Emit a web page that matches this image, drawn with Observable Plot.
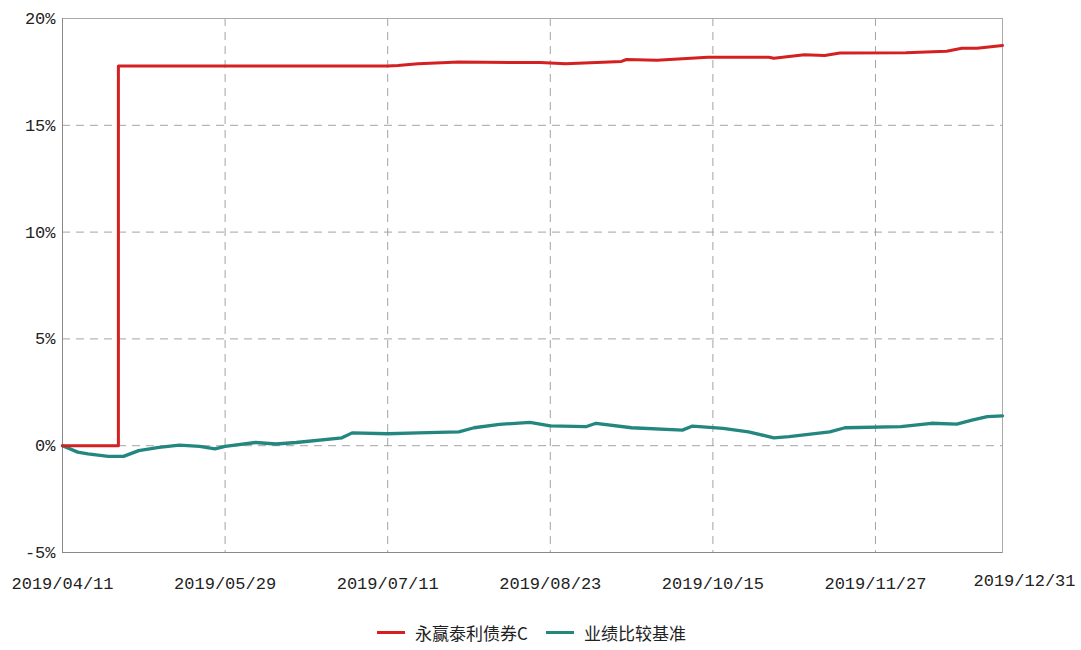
<!DOCTYPE html>
<html>
<head>
<meta charset="utf-8">
<script src="https://cdn.jsdelivr.net/npm/d3@7"></script>
<script src="https://cdn.jsdelivr.net/npm/@observablehq/plot@0.6"></script>
<style>
  body { margin: 0; background: #fff; }
  #legend { display: flex; justify-content: center; align-items: center; font-family: "Noto Sans CJK SC", sans-serif; font-size: 17px; color: #222; margin-top: 20px; padding-right: 18px; }
  .item { display: flex; align-items: center; margin: 0 9px; }
  .swatch { width: 28px; height: 3px; margin-right: 10px; }
</style>
</head>
<body>
<div id="chart"></div>
<div id="legend"></div>
<script>
const seriesNames = ["永赢泰利债券C", "业绩比较基准"];
const seriesColors = ["#d42020", "#23877f"];

// trading-day index and cumulative return (%)
const fundIdx = [0,11,11,30,64,66,70,78,90,94,99,110,111,117,127,139,140,146,150,153,166,174,177,180,185];
const fundVal = [0,0,17.78,17.78,17.78,17.8,17.88,17.96,17.94,17.94,17.88,17.99,18.08,18.04,18.19,18.19,18.14,18.3,18.27,18.38,18.4,18.47,18.61,18.61,18.74];

const benchIdx = [0,3,5,9,12,15,19,23,27,30,32,38,42,46,55,57,64,70,78,81,86,92,96,103,105,112,122,124,130,135,140,143,151,154,165,171,176,179,182,185];
const benchVal = [0,-0.3,-0.38,-0.5,-0.5,-0.23,-0.08,0.03,-0.03,-0.15,-0.03,0.15,0.08,0.15,0.37,0.6,0.56,0.6,0.65,0.84,1.0,1.09,0.93,0.89,1.05,0.84,0.73,0.92,0.81,0.65,0.37,0.42,0.65,0.84,0.89,1.05,1.01,1.2,1.36,1.4];

const tickIdx = [0,32,64,96,128,160,185];
const tickLabels = ["2019/04/11","2019/05/29","2019/07/11","2019/08/23","2019/10/15","2019/11/27","2019/12/31"];
const yTicks = [-5,0,5,10,15,20];

const fund = fundIdx.map((x, i) => ({x, y: fundVal[i]}));
const bench = benchIdx.map((x, i) => ({x, y: benchVal[i]}));
const lbl = d => tickLabels[tickIdx.indexOf(d)];
const font = "'Liberation Mono', monospace";

const chart = Plot.plot({
  width: 1081,
  height: 600,
  marginTop: 18,
  marginBottom: 48,
  marginLeft: 62,
  marginRight: 79,
  style: {fontFamily: font, fontSize: "17px", color: "#222", background: "#fff"},
  x: {domain: [0, 185]},
  y: {domain: [-5, 20]},
  marks: [
    Plot.gridY([0,5,10,15], {stroke: "#999", strokeOpacity: 0.9, strokeDasharray: "8,6"}),
    Plot.gridX(tickIdx.slice(1, 6), {stroke: "#999", strokeOpacity: 0.9, strokeDasharray: "8,6"}),
    Plot.frame({stroke: "#aaa"}),
    Plot.ruleX([0], {stroke: "#888"}),
    Plot.ruleY([-5], {stroke: "#888"}),
    Plot.axisY(yTicks, {tickSize: 0, tickPadding: 7, tickFormat: d => d + "%", label: null, fontSize: 17}),
    Plot.axisX(tickIdx.slice(0, 6), {tickSize: 0, tickPadding: 24, tickFormat: lbl, label: null, fontSize: 17}),
    Plot.axisX([185], {tickSize: 0, tickPadding: 21, tickFormat: lbl, label: null, fontSize: 17, dx: 22}),
    Plot.line(bench, {x: "x", y: "y", stroke: seriesColors[1], strokeWidth: 3.3}),
    Plot.line(fund, {x: "x", y: "y", stroke: seriesColors[0], strokeWidth: 3})
  ]
});
document.getElementById("chart").appendChild(chart);

const legend = document.getElementById("legend");
seriesNames.forEach((n, i) => {
  const item = document.createElement("div");
  item.className = "item";
  const sw = document.createElement("div");
  sw.className = "swatch";
  sw.style.background = seriesColors[i];
  const t = document.createElement("span");
  t.textContent = n;
  item.appendChild(sw);
  item.appendChild(t);
  legend.appendChild(item);
});
</script>
</body>
</html>
